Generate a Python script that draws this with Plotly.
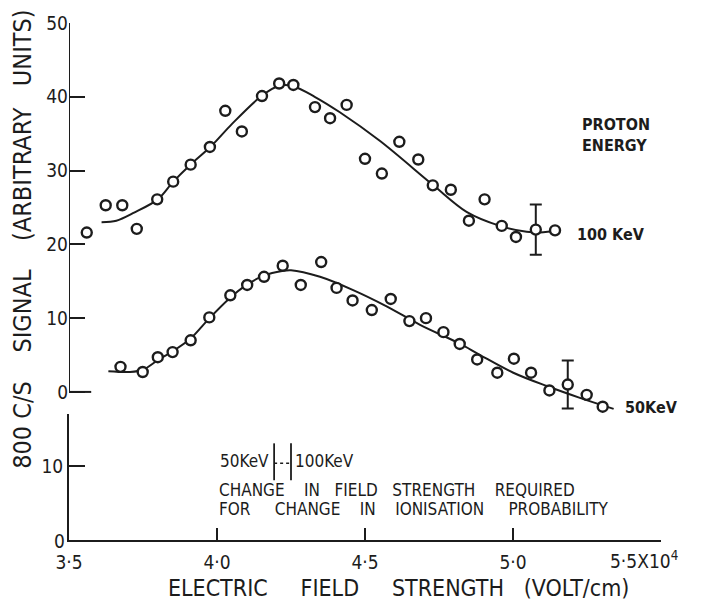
import plotly.graph_objects as go

# ---------------- data ----------------
# 100 keV measured points
x100 = [3.56, 3.624, 3.68, 3.729, 3.798, 3.852, 3.911, 3.976, 4.028, 4.084, 4.152, 4.21, 4.258,
        4.331, 4.382, 4.438, 4.50, 4.557, 4.616, 4.68, 4.729, 4.79, 4.851, 4.904, 4.962, 5.01,
        5.077, 5.142]
y100 = [21.6, 25.3, 25.3, 22.1, 26.1, 28.5, 30.8, 33.2, 38.1, 35.3, 40.1, 41.8, 41.6,
        38.6, 37.1, 38.9, 31.6, 29.6, 33.9, 31.5, 28.0, 27.4, 23.2, 26.1, 22.5, 21.0,
        22.0, 21.9]
# 100 keV smooth curve
cx100 = [3.61, 3.66, 3.72, 3.80, 3.85, 3.91, 3.98, 4.05, 4.15, 4.21, 4.26, 4.33, 4.415,
         4.551, 4.731, 4.843, 4.956, 5.046, 5.091, 5.159]
cy100 = [23.0, 23.2, 24.3, 26.1, 28.4, 30.8, 33.3, 36.3, 40.1, 41.5, 41.4, 40.0, 37.9,
         34.0, 28.0, 24.4, 22.5, 21.7, 21.6, 21.9]

# 50 keV measured points
x50 = [3.674, 3.749, 3.80, 3.85, 3.911, 3.974, 4.045, 4.102, 4.159, 4.222, 4.283, 4.352, 4.404,
       4.458, 4.523, 4.587, 4.65, 4.706, 4.765, 4.82, 4.879, 4.947, 5.003, 5.061, 5.123, 5.185,
       5.249, 5.303]
y50 = [3.4, 2.7, 4.7, 5.4, 7.0, 10.1, 13.1, 14.5, 15.6, 17.1, 14.5, 17.6, 14.1,
       12.4, 11.1, 12.6, 9.6, 10.0, 8.1, 6.5, 4.4, 2.6, 4.5, 2.6, 0.2, 1.0,
       -0.4, -2.0]
# 50 keV smooth curve
cx50 = [3.633, 3.706, 3.75, 3.80, 3.85, 3.91, 3.97, 4.04, 4.10, 4.16, 4.22, 4.25, 4.348, 4.46,
        4.573, 4.686, 4.817, 4.889, 5.001, 5.114, 5.226, 5.34]
cy50 = [2.8, 2.7, 3.0, 4.3, 5.5, 7.2, 9.8, 12.6, 14.5, 15.8, 16.4, 16.5, 15.6, 13.8,
        11.6, 9.1, 6.6, 5.0, 2.6, 0.8, -0.8, -2.3]

# representative error bars
err_x = [5.077, 5.185]
err_y = [22.0, 1.0]
err_v = [3.4, 3.25]

# field-strength shift between 50 and 100 keV (lower panel)
shift_x = [4.193, 4.25]

x_ticks = [3.5, 4.0, 4.5, 5.0]
x_ticktext = ["3·5", "4·0", "4·5", "5·0"]
x_end = 5.5
y_ticks_top = [0, 10, 20, 30, 40, 50]
y_ticks_low = [0, 10]

INK = "#1c1c1c"
FONT = "Liberation Sans Narrow, DejaVu Sans Condensed, Arial Narrow, sans-serif"
NB = "\u00a0"


def sp(n):
    return NB * n


fig = go.Figure()

# curves
fig.add_trace(go.Scatter(x=cx100, y=cy100, mode="lines", xaxis="x2", yaxis="y2",
                         line=dict(color=INK, width=2, shape="spline", smoothing=0.9),
                         hoverinfo="skip", showlegend=False))
fig.add_trace(go.Scatter(x=cx50, y=cy50, mode="lines", xaxis="x2", yaxis="y2",
                         line=dict(color=INK, width=2, shape="spline", smoothing=0.9),
                         hoverinfo="skip", showlegend=False))
# error bars
fig.add_trace(go.Scatter(x=err_x, y=err_y, mode="markers", xaxis="x2", yaxis="y2",
                         marker=dict(size=2, color=INK),
                         error_y=dict(type="data", array=err_v, visible=True, color=INK,
                                      thickness=2, width=6),
                         hoverinfo="skip", showlegend=False))
# points
mk = dict(symbol="circle", size=10, color="white", line=dict(color=INK, width=2.4))
fig.add_trace(go.Scatter(x=x100, y=y100, mode="markers", xaxis="x2", yaxis="y2",
                         marker=mk, name="100 KeV", showlegend=False, cliponaxis=False))
fig.add_trace(go.Scatter(x=x50, y=y50, mode="markers", xaxis="x2", yaxis="y2",
                         marker=mk, name="50 KeV", showlegend=False, cliponaxis=False))

tickfont = dict(family=FONT, size=19, color=INK)

fig.update_layout(
    width=710, height=607,
    margin=dict(l=69, r=49, t=20, b=67),
    paper_bgcolor="white", plot_bgcolor="white",
    showlegend=False,
    xaxis=dict(domain=[0, 1], range=[3.5, x_end], anchor="y", showline=True, linewidth=2,
               linecolor=INK, ticks="inside", ticklen=12, tickwidth=2, tickcolor=INK,
               tickvals=x_ticks, ticktext=x_ticktext, tickfont=tickfont,
               ticklabelstandoff=4,
               minor=dict(tickmode="array", tickvals=[x_end], ticks="inside", ticklen=12,
                          tickwidth=2, tickcolor=INK, showgrid=False),
               showgrid=False, zeroline=False),
    yaxis=dict(domain=[0, 0.2436], range=[0, 17.07], anchor="x", showline=True, linewidth=2,
               linecolor=INK, ticks="inside", ticklen=16, tickwidth=2, tickcolor=INK,
               tickvals=[y_ticks_low[1]], ticktext=[str(y_ticks_low[1])],
               tickfont=tickfont, showgrid=False, zeroline=False),
    xaxis2=dict(domain=[0, 1], range=[3.5, x_end], anchor="y2", visible=False, matches="x"),
    yaxis2=dict(domain=[0.2436, 1], range=[-3, 50], anchor="x2", showline=False,
                ticks="inside", ticklen=16, tickwidth=2, tickcolor=INK,
                tickvals=y_ticks_top, ticktext=[str(v) for v in y_ticks_top],
                tickfont=tickfont, showgrid=False, zeroline=False),
)

# broken upper y-axis line and extended zero tick
fig.add_shape(type="line", xref="x2", yref="y2", x0=3.5, x1=3.5, y0=0, y1=50,
              line=dict(color=INK, width=2))
fig.add_shape(type="line", xref="x2", yref="y2", x0=3.5, x1=3.575, y0=0, y1=0,
              line=dict(color=INK, width=2))

# shift marker in lower panel
for xv in shift_x:
    fig.add_shape(type="line", xref="x", yref="y", x0=xv, x1=xv, y0=8.1, y1=13.1,
                  line=dict(color=INK, width=1.8))
fig.add_shape(type="line", xref="x", yref="y", x0=shift_x[0], x1=shift_x[1], y0=10.4, y1=10.4,
              line=dict(color=INK, width=1.5, dash="dot"))

lab = dict(family=FONT, size=16, color=INK, weight="bold")
txt = dict(family=FONT, size=17, color=INK)

ann = [
    dict(x=5.209, y=21.4, xref="x2", yref="y2", text="100 KeV", font=lab,
         xanchor="left", yanchor="middle", showarrow=False),
    dict(x=5.226, y=34.8, xref="x2", yref="y2", text="PROTON<br>ENERGY", font=lab,
         xanchor="left", yanchor="middle", align="left", showarrow=False),
    dict(x=5.372, y=-2.15, xref="x2", yref="y2", text="50KeV", font=lab,
         xanchor="left", yanchor="middle", showarrow=False),
    dict(x=4.003, y=10.65, xref="x", yref="y", text="50KeV", font=txt,
         xanchor="left", yanchor="middle", showarrow=False),
    dict(x=4.257, y=10.65, xref="x", yref="y", text="100KeV", font=txt,
         xanchor="left", yanchor="middle", showarrow=False),
    dict(x=4.0, y=6.74, xref="x", yref="y",
         text="CHANGE" + sp(4) + "IN" + sp(3) + "FIELD" + sp(3) + "STRENGTH" + sp(4) + "REQUIRED",
         font=txt, xanchor="left", yanchor="middle", showarrow=False),
    dict(x=4.0, y=4.18, xref="x", yref="y",
         text="FOR" + sp(5) + "CHANGE" + sp(4) + "IN" + sp(4) + "IONISATION" + sp(5) + "PROBABILITY",
         font=txt, xanchor="left", yanchor="middle", showarrow=False),
    dict(x=3.5, y=y_ticks_low[0], xref="x", yref="y", text=str(y_ticks_low[0]), font=tickfont,
         xanchor="right", yanchor="middle", xshift=-2, yshift=-1, showarrow=False),
    dict(x=x_end, y=0, xref="x", yref="y", text="5·5X10<sup>4</sup>", font=tickfont,
         xanchor="center", yanchor="top", xshift=-17, yshift=-6, showarrow=False),
    dict(x=398, y=588, xref="paper", yref="paper",
         text="ELECTRIC" + sp(5) + "FIELD" + sp(5) + "STRENGTH" + sp(3) + "(VOLT/cm)",
         font=dict(family=FONT, size=23, color=INK), showarrow=False),
    dict(x=23, y=238, xref="paper", yref="paper",
         text="800 C/S" + sp(4) + "SIGNAL" + sp(4) + "(ARBITRARY" + sp(3) + "UNITS)",
         font=dict(family=FONT, size=25, color=INK), textangle=-90, showarrow=False),
]

# convert the two title positions from pixels to paper fractions
plot_w = 710 - 69 - 49
plot_h = 607 - 20 - 67
for a in ann[-2:]:
    a["x"] = (a["x"] - 69) / plot_w
    a["y"] = (607 - 67 - a["y"]) / plot_h
    a["xanchor"] = "center"
    a["yanchor"] = "middle"

fig.update_layout(annotations=ann)

fig.write_html("out.html")
